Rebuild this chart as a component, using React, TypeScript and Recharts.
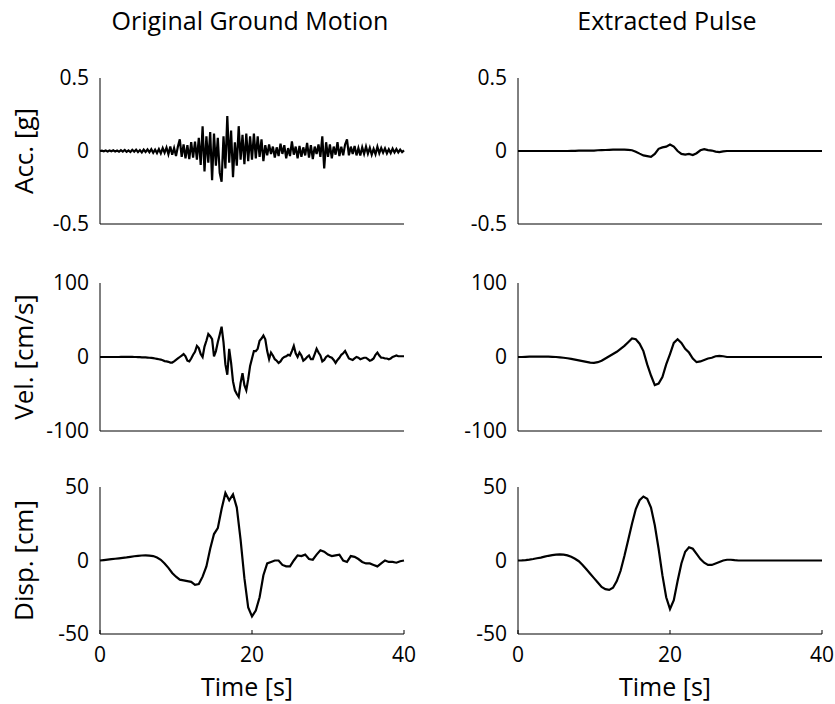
import { Line, LineChart, XAxis, YAxis } from "recharts";

const FONT = '"Open Sans", "DejaVu Sans", sans-serif';

// sample spacing of the digitised records [s]
const FINE_DT = 0.25;
const COARSE_DT = 0.5;

const timeTicks = [0, 20, 40];
const accTicks = [-0.5, 0, 0.5];
const velTicks = [-100, 0, 100];
const dispTicks = [-50, 0, 50];

const columnTitles = ["Original Ground Motion", "Extracted Pulse"];
const rowLabels = ["Acc. [g]", "Vel. [cm/s]", "Disp. [cm]"];
const timeLabel = "Time [s]";

// original record, acceleration [g], every 0.25 s
const groundAcc = [
  0, 0.002, -0.002, 0.003,
  -0.003, 0.004, -0.002, 0.005,
  -0.004, 0.003, -0.005, 0.006,
  -0.004, 0.007, -0.006, 0.004,
  -0.007, 0.008, -0.005, 0.009,
  -0.008, 0.006, -0.01, 0.009, // 5 s
  -0.007, 0.011, -0.009, 0.012,
  -0.012, 0.009, -0.014, 0.013,
  -0.016, 0.02, -0.012, 0.024,
  -0.022, 0.03, -0.026, 0.02,
  -0.035, 0.03, 0.08, -0.04, // 10 s
  0.045, -0.05, 0.04, -0.055,
  0.06, -0.045, 0.065, -0.06,
  0.09, -0.095, 0.17, -0.14,
  0.1, -0.08, 0.13, -0.2,
  0.12, -0.1, 0.09, -0.15, // 15 s
  -0.21, 0.1, -0.12, 0.24,
  -0.08, 0.14, -0.18, 0.06,
  -0.1, 0.17, -0.06, 0.11,
  -0.09, 0.12, -0.07, 0.1,
  -0.06, 0.12, -0.05, 0.1, // 20 s
  -0.04, 0.08, -0.07, 0.04,
  -0.03, 0.045, -0.02, 0.03,
  -0.045, 0.025, -0.035, 0.05,
  -0.02, 0.04, -0.05, 0.02,
  -0.035, 0.065, -0.025, 0.03, // 25 s
  -0.05, 0.035, -0.04, 0.025,
  -0.03, 0.055, -0.045, 0.04,
  -0.055, 0.03, -0.02, 0.045,
  -0.04, 0.1, -0.12, 0.06,
  -0.04, 0.045, -0.05, 0.03, // 30 s
  -0.025, 0.06, -0.035, 0.03,
  -0.03, 0.045, 0.08, -0.03,
  0.03, -0.02, 0.035, -0.03,
  0.02, -0.03, 0.025, -0.02,
  0.03, -0.018, 0.022, -0.025, // 35 s
  0.015, -0.022, 0.03, -0.015,
  0.02, -0.012, 0.018, -0.016,
  0.012, -0.015, 0.016, -0.01,
  0.013, -0.01, 0.009, -0.008,
  0.004,
];

// original record, velocity [cm/s], every 0.25 s
const groundVel = [
  0, 0, 0, 0,
  0, 0, 0, 0,
  0, 0, 0, 0.2,
  0.2, 0.2, 0.3, 0.2,
  0.2, 0.1, 0, 0,
  -0.2, -0.3, -0.5, -0.5, // 5 s
  -0.6, -0.8, -1, -1.2,
  -1.5, -2, -2.5, -3,
  -3.5, -4.5, -5.5, -6,
  -6.5, -7.5, -7.5, -6,
  -4, -2, 0, 2, // 10 s
  4, 1, -5, -6,
  -2, 3, 7, 15,
  12, 4, 0, 14,
  22, 31, 28, 24,
  1, 8, 20, 30, // 15 s
  41, 20, -10, -24,
  11, -8, -33, -45,
  -50, -54, -35, -22,
  -38, -45, -30, -12,
  -2, 8, 8, 11, // 20 s
  22, 25, 29, 24,
  8, -3, 6, 2,
  -3, -5, -8, -6,
  -2, 0, 1, 3,
  2, 8, 15, 5, // 25 s
  0, 6, 2, -5,
  -3, 0, 2, -3,
  -3, 4, 11, 6,
  2, -6, -4, 0,
  2, 0, -1, -4, // 30 s
  -8, -4, -1, 3,
  5, 8, 3, -2,
  -3, -4, -2, 0,
  -1, -3, -2, -1,
  -1, -3, -5, -4, // 35 s
  -2, 3, 6, 2,
  -1, -1, -2, -2,
  -3, -2, 0, 1,
  2, 1, 1, 1,
  1,
];

// original record, displacement [cm], every 0.5 s
const groundDisp = [
  0, 0.3, 0.6, 0.9, 1.2, 1.5, 1.8, 2.1, 2.5, 2.9,
  3.2, 3.4, 3.5, 3.3, 3.0, 2.0, 0.5, -2, -5, -8.5,
  -11, -13, -13.5, -14, -14.5, -16.5, -16, -11, -4, 8,
  18, 22, 35, 46, 41, 45, 36, 14, -12, -32,
  -38, -34, -25, -10, -2, -1, 0, 0, -3, -4,
  -4, 0, 3.5, 3, 4, 1, 0.5, 4, 7, 6,
  4, 3, 3.5, 4, 0, -1, 3, 2.5, 1, -1,
  -2, -2, -3, -4, -2, 0, -1, -1, -1.5, -0.5,
  0,
];

// extracted pulse, acceleration [g], every 0.5 s
const pulseAcc = [
  0, 0, 0, 0, 0, 0, 0, 0, 0, 0,
  0, 0, 0, 0, 0.001, 0.001, 0.002, 0.002, 0.002, 0.003,
  0.003, 0.005, 0.006, 0.007, 0.008, 0.009, 0.01, 0.01, 0.009, 0.008,
  0.005, -0.005, -0.018, -0.03, -0.035, -0.04, -0.02, 0.015, 0.025, 0.03,
  0.045, 0.03, 0, -0.02, -0.025, -0.02, -0.028, -0.015, 0.005, 0.012,
  0.006, 0.003, -0.004, -0.007, -0.003, 0, 0, 0, 0, 0,
  0, 0, 0, 0, 0, 0, 0, 0, 0, 0,
  0, 0, 0, 0, 0, 0, 0, 0, 0, 0,
  0,
];

// extracted pulse, velocity [cm/s], every 0.5 s
const pulseVel = [
  0, 0, 0.2, 0.4, 0.5, 0.5, 0.5, 0.5, 0.4, 0.2,
  0, -0.5, -1, -1.7, -2.5, -3.5, -4.5, -5.5, -6.5, -7.5,
  -8, -7, -5, -2, 1, 4, 7, 11, 15, 20,
  25, 24, 18, 8, -10, -25, -38, -36, -27, -10,
  4, 19, 24, 19, 11, 6, -2, -7, -6, -4,
  -2, -1, 1, 1.5, 1, 0, 0, 0, 0, 0,
  0, 0, 0, 0, 0, 0, 0, 0, 0, 0,
  0, 0, 0, 0, 0, 0, 0, 0, 0, 0,
  0,
];

// extracted pulse, displacement [cm], every 0.5 s
const pulseDisp = [
  0, 0.1, 0.3, 0.6, 1, 1.5, 2, 2.6, 3.2, 3.7,
  4, 4.2, 4, 3.5, 2.5, 1.2, -0.5, -3, -6, -9,
  -12, -15, -18, -19.5, -20, -18.5, -14, -7, 3, 14,
  25, 35, 41, 43.5, 42, 36, 24, 8, -10, -25,
  -33, -27, -14, -2, 6, 9, 8, 4.5, 1, -1.5,
  -3, -3, -2, -1, 0, 0.5, 0.5, 0.2, 0, 0,
  0, 0, 0, 0, 0, 0, 0, 0, 0, 0,
  0, 0, 0, 0, 0, 0, 0, 0, 0, 0,
  0,
];

const rowTops = [78, 283, 487];
const rowHeights = [146, 148, 147];
const columnLefts = [0, 418];
const TOP_PAD = 16;

function YTitle(props: any) {
  const vb = props.viewBox || {};
  const cx = (vb.x || 0) + 24;
  const cy = (vb.y || 0) + (vb.height || 0) / 2;
  return (
    <text
      transform={`translate(${cx},${cy}) rotate(-90)`}
      textAnchor="middle"
      dy="0.36em"
      fontSize={26}
      fontFamily={FONT}
      fill="#000"
    >
      {props.text}
    </text>
  );
}

type PanelProps = {
  values: number[];
  dt: number;
  ticks: number[];
  row: number;
  col: number;
};

function Panel({ values, dt, ticks, row, col }: PanelProps) {
  const rows = values.map((v, i) => ({ t: i * dt, v }));
  const showTime = row === 2;
  const plotHeight = rowHeights[row];
  const axisHeight = showTime ? 69 : 8;
  const bottomPad = showTime ? 0 : 14;
  const height = TOP_PAD + plotHeight + axisHeight + bottomPad;
  const tickStyle = { fill: "#000", fontSize: 21, fontFamily: FONT };

  return (
    <div style={{ position: "absolute", left: columnLefts[col], top: rowTops[row] - TOP_PAD }}>
      <LineChart
        width={417}
        height={height}
        data={rows}
        margin={{ top: TOP_PAD, right: 13, bottom: bottomPad, left: 0 }}
      >
        <XAxis
          dataKey="t"
          type="number"
          domain={[0, 40]}
          ticks={timeTicks}
          interval={0}
          height={axisHeight}
          stroke="#000"
          tickSize={-4}
          tickMargin={17}
          tick={showTime ? tickStyle : false}
          label={
            showTime
              ? {
                  value: timeLabel,
                  position: "insideBottom",
                  offset: 7,
                  dx: -5,
                  fill: "#000",
                  fontSize: 25,
                  fontFamily: FONT,
                }
              : undefined
          }
        />
        <YAxis
          type="number"
          domain={[ticks[0], ticks[ticks.length - 1]]}
          ticks={ticks}
          interval={0}
          width={100}
          stroke="#000"
          tickLine={false}
          tickSize={0}
          tickMargin={11}
          tick={tickStyle}
          label={col === 0 ? <YTitle text={rowLabels[row]} /> : undefined}
        />
        <Line
          dataKey="v"
          type="linear"
          stroke="#000"
          strokeWidth={2.2}
          dot={false}
          activeDot={false}
          isAnimationActive={false}
        />
      </LineChart>
    </div>
  );
}

export default function App() {
  return (
    <div
      style={{
        position: "absolute",
        left: 0,
        top: 0,
        width: 835,
        height: 704,
        overflow: "hidden",
        background: "#fff",
      }}
    >
      <svg width={835} height={50} style={{ position: "absolute", left: 0, top: 0 }}>
        <text x={250} y={30} textAnchor="middle" fontSize={25} fontFamily={FONT} fill="#000">
          {columnTitles[0]}
        </text>
        <text x={667} y={30} textAnchor="middle" fontSize={25} fontFamily={FONT} fill="#000">
          {columnTitles[1]}
        </text>
      </svg>
      <Panel values={groundAcc} dt={FINE_DT} ticks={accTicks} row={0} col={0} />
      <Panel values={groundVel} dt={FINE_DT} ticks={velTicks} row={1} col={0} />
      <Panel values={groundDisp} dt={COARSE_DT} ticks={dispTicks} row={2} col={0} />
      <Panel values={pulseAcc} dt={COARSE_DT} ticks={accTicks} row={0} col={1} />
      <Panel values={pulseVel} dt={COARSE_DT} ticks={velTicks} row={1} col={1} />
      <Panel values={pulseDisp} dt={COARSE_DT} ticks={dispTicks} row={2} col={1} />
    </div>
  );
}
